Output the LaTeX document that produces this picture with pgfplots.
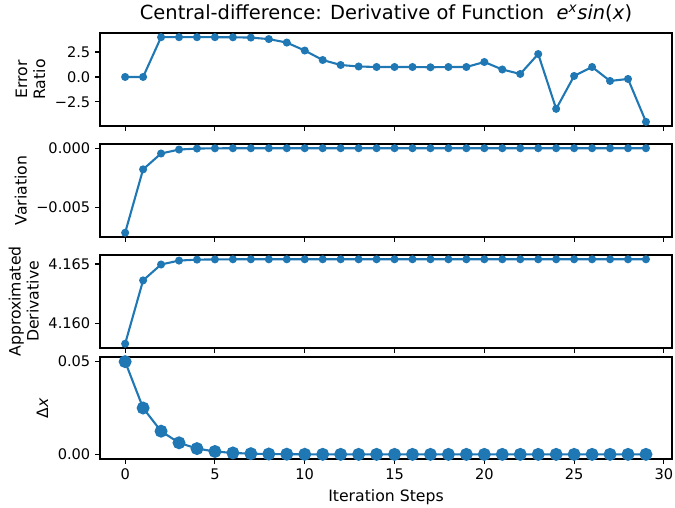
\documentclass[border=0pt]{standalone}
\usepackage{pgfplots}
\pgfplotsset{compat=1.18}
\usepackage{fontspec}
\setmainfont{DejaVu Sans}
\definecolor{mplblue}{HTML}{1F77B4}

% 1 px of the reference = 0.72pt
\pgfplotsset{
  panel/.style={
    scale only axis, width=411.84pt, height=66.96pt,
    anchor=north west,
    xmin=-1.4, xmax=30.45,
    xtick={0,5,...,30},
    scaled y ticks=false,
    tick align=outside, major tick length=3.5pt,
    xtick pos=bottom, ytick pos=left,
    every tick/.style={black, line width=0.8pt},
    axis line style={line width=0.8pt},
    tick label style={font=\fontsize{10.5}{12}\selectfont},
    label style={font=\fontsize{11.3}{13}\selectfont},
    /pgf/number format/assume math mode=true,
    ylabel style={align=center},
  },
  curve/.style={color=mplblue, line width=1.5pt, mark=*, mark size=2.1pt,
    mark options={fill=mplblue, draw=none}},
}

\begin{document}
\begin{tikzpicture}

\begin{axis}[panel, name=p1, at={(0,0)},
  ymin=-4.92, ymax=4.41,
  ytick={-2.5,0,2.5}, yticklabels={−2.5,0.0,2.5}, xticklabels={},
  ylabel={Error\\Ratio},
  title={Central-difference: Derivative of Function\ \ \textit{e}\textsuperscript{\textit{x}}\textit{sin}(\textit{x})},
  title style={font=\fontsize{14}{16}\selectfont, yshift=-2pt}]
\addplot[curve] coordinates {
(0,0) (1,0) (2,3.99) (3,3.99) (4,3.99) (5,3.99) (6,3.98) (7,3.95) (8,3.8) (9,3.45)
(10,2.65) (11,1.7) (12,1.2) (13,1.05) (14,1.0) (15,1.0) (16,1.0) (17,0.97) (18,1.0) (19,1.0)
(20,1.5) (21,0.75) (22,0.3) (23,2.3) (24,-3.2) (25,0.1) (26,1.0) (27,-0.4) (28,-0.2) (29,-4.5)};
\end{axis}

\begin{axis}[panel, name=p2, at={(0,-79.92pt)},
  ymin=-0.00748, ymax=0.000356,
  ytick={-0.005,0}, yticklabels={−0.005,0.000}, xticklabels={},
  ylabel={Variation}]
\addplot[curve] coordinates {
(0,-0.00712) (1,-0.00178) (2,-0.000445) (3,-0.000111) (4,-0.0000278) (5,-0.000007)
(6,-0.0000017) (7,-0.0000004) (8,0) (9,0) (10,0) (11,0) (12,0) (13,0) (14,0) (15,0)
(16,0) (17,0) (18,0) (19,0) (20,0) (21,0) (22,0) (23,0) (24,0) (25,0) (26,0) (27,0) (28,0) (29,0)};
\end{axis}

\begin{axis}[panel, name=p3, at={(0,-159.84pt)},
  ymin=4.15792, ymax=4.16576,
  ytick={4.160,4.165}, yticklabels={4.160,4.165}, xticklabels={},
  ylabel={Approximated\\Derivative}]
\addplot[curve] coordinates {
(0,4.15828) (1,4.16362) (2,4.16496) (3,4.16529) (4,4.16537) (5,4.16539) (6,4.1654)
(7,4.1654) (8,4.1654) (9,4.1654) (10,4.1654) (11,4.1654) (12,4.1654) (13,4.1654) (14,4.1654)
(15,4.1654) (16,4.1654) (17,4.1654) (18,4.1654) (19,4.1654) (20,4.1654) (21,4.1654) (22,4.1654)
(23,4.1654) (24,4.1654) (25,4.1654) (26,4.1654) (27,4.1654) (28,4.1654) (29,4.1654)};
\end{axis}

\begin{axis}[panel, name=p4, at={(0,-233.28pt)}, height=73.44pt,
  ymin=-0.0025, ymax=0.0525,
  ytick={0,0.05}, yticklabels={0.00,0.05},
  ylabel={Δ\textit{x}}, xlabel={Iteration Steps}]
\addplot[curve, mark size=3.9pt] coordinates {
(0,0.05) (1,0.025) (2,0.0125) (3,0.00625) (4,0.003125) (5,0.0015625) (6,0.00078)
(7,0.00039) (8,0.0002) (9,0.0001) (10,0.00005) (11,0.000024) (12,0.000012) (13,0.000006)
(14,0.000003) (15,0.0000015) (16,0) (17,0) (18,0) (19,0) (20,0) (21,0) (22,0) (23,0)
(24,0) (25,0) (26,0) (27,0) (28,0) (29,0)};
\end{axis}

% page frame as in the reference (675 x 507 px)
\pgfresetboundingbox
\path[use as bounding box] (-72pt,23.76pt) rectangle (414pt,-341.28pt);
\end{tikzpicture}
\end{document}
